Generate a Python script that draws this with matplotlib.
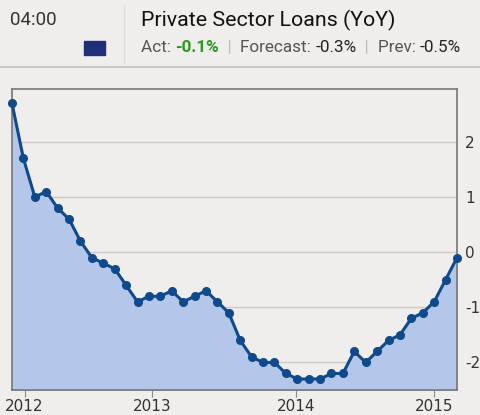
import matplotlib
matplotlib.use("Agg")
import matplotlib.pyplot as plt

values = [2.7, 1.7, 1.0, 1.1, 0.8, 0.6, 0.2, -0.1, -0.2, -0.3, -0.6, -0.9, -0.8, -0.8, -0.7, -0.9,
          -0.8, -0.7, -0.9, -1.1, -1.6, -1.9, -2.0, -2.0, -2.2, -2.3, -2.3, -2.3, -2.2, -2.2,
          -1.8, -2.0, -1.8, -1.6, -1.5, -1.2, -1.1, -0.9, -0.5, -0.1]
tick_pos = [1.1, 12.3, 24.9, 37.0]
tick_labels = ["2012", "2013", "2014", "2015"]
y_ticks = [2, 1, 0, -1, -2]

W, H = 480, 415
fig = plt.figure(figsize=(W/100, H/100), dpi=100)
bg = "#efeeec"
fig.patch.set_facecolor(bg)

# header
fig.text(10/W, 1-20/H, "04:00", fontsize=13.5, color="#333333", va="center", family="Roboto")
fig.text(141/W, 1-20/H, "Private Sector Loans (YoY)", fontsize=15.4, color="#111111", va="center", family="Roboto")
fig.add_artist(plt.Line2D([124/W, 124/W], [1-5/H, 1-63/H], color="#dddddd", lw=1))
fig.add_artist(plt.Rectangle((84/W, 1-55/H), 21/W, 14/H, color="#1f2f7a", transform=fig.transFigure))
y2 = 1-48/H
parts = [("Act: ", "#555555", "normal"), ("-0.1%", "#2a9a1e", "bold"), ("  |  ", "#bbbbbb", "normal"),
         ("Forecast: ", "#555555", "normal"), ("-0.3%", "#222222", "normal"), ("  |  ", "#bbbbbb", "normal"),
         ("Prev: ", "#555555", "normal"), ("-0.5%", "#222222", "normal")]
x = 141
r = fig.canvas.get_renderer()
for s, c, w in parts:
    t = fig.text(x/W, y2, s, fontsize=12.3, color=c, weight=w, va="center", family="Roboto")
    bb = t.get_window_extent(renderer=r)
    x += bb.width
fig.add_artist(plt.Line2D([0, 1], [1-67/H, 1-67/H], color="#c8c8c8", lw=1.5))

ax = fig.add_axes([12/W, 1-390/H, 445/W, 301/H])
ax.set_facecolor(bg)
xs = list(range(len(values)))
ax.fill_between(xs, values, -2.5, color="#b4c6ea", zorder=1)
ax.plot(xs, values, color="#0f4a8c", lw=2.2, marker="o", ms=5.5, zorder=3, clip_on=False)
ax.set_xlim(0, len(values)-1)
ax.set_ylim(-2.5, 2.96)
ax.set_yticks(y_ticks)
for yv in y_ticks:
    ax.axhline(yv, color="#cfcac4", lw=1, zorder=0)
ax.yaxis.tick_right()
ax.set_yticklabels([str(v) for v in y_ticks], fontsize=11, color="#333333")
ax.set_xticks(tick_pos)
ax.set_xticklabels(tick_labels, fontsize=11, color="#333333")
ax.tick_params(axis="y", length=0, pad=6)
ax.tick_params(axis="x", length=5, color="#888888", pad=1.5)
for s in ax.spines.values():
    s.set_color("#777777"); s.set_linewidth(1.2)
fig.savefig("out.png", dpi=100, facecolor=bg)
